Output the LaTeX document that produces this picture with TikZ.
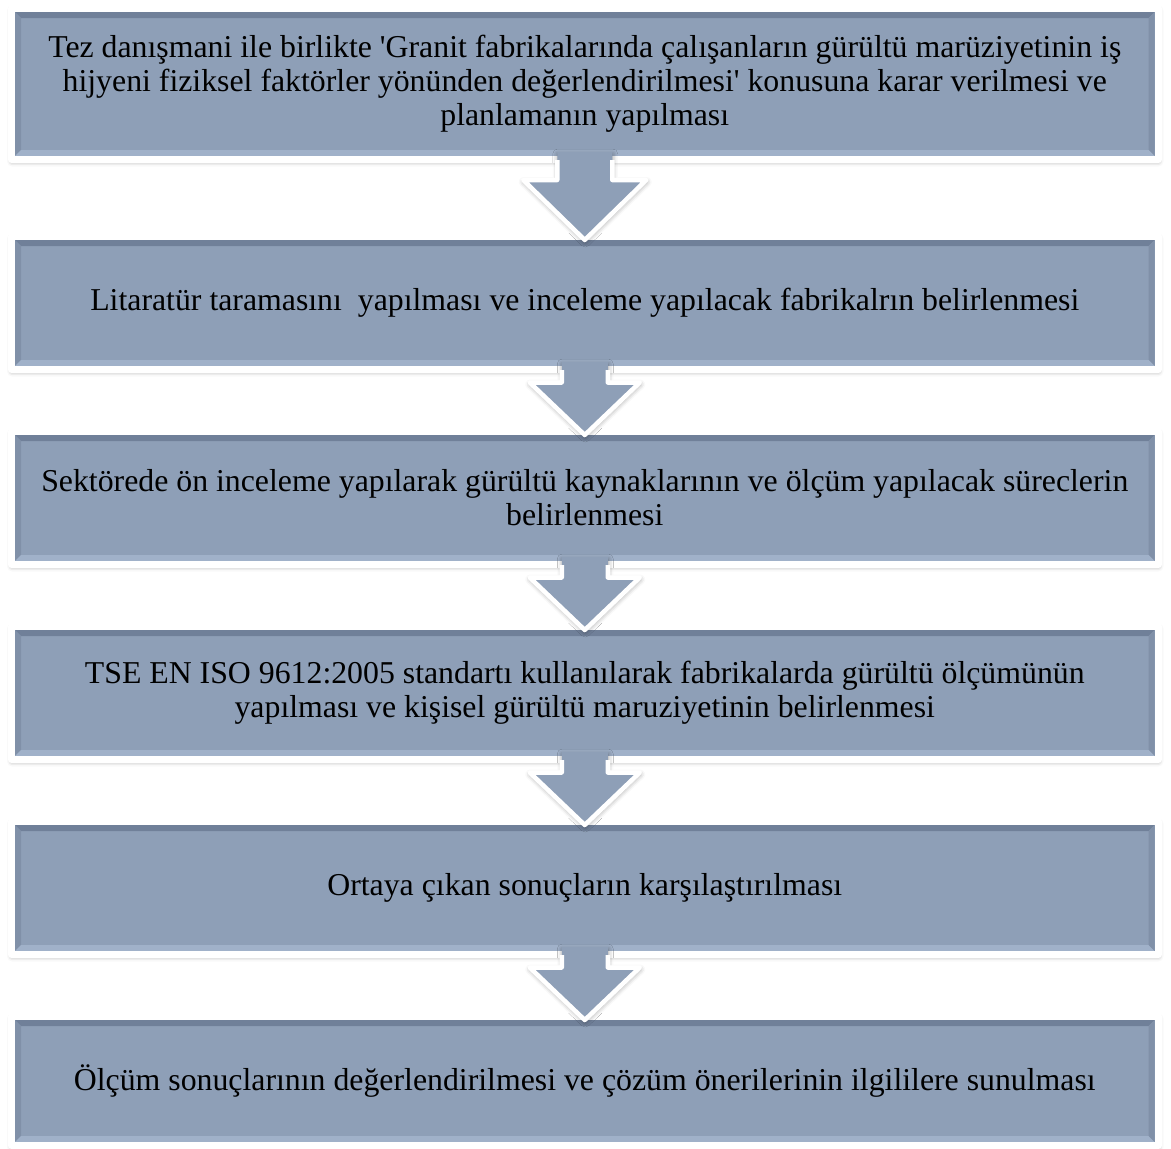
\documentclass[tikz,border=0pt]{standalone}
\usepackage{fontspec}
\setmainfont{Liberation Serif}
\usetikzlibrary{calc,shadows.blur}
\definecolor{boxfill}{RGB}{142,159,183}
\definecolor{bevdark}{RGB}{112,128,153}
\definecolor{bevside}{RGB}{128,144,168}
\definecolor{bevlight}{RGB}{160,177,201}
\begin{document}
\begin{tikzpicture}[x=1pt, y=-1pt, line join=round,
    softshadow/.style={blur shadow={shadow xshift=0.5pt, shadow yshift=-2pt,
        shadow blur radius=5pt, shadow opacity=40}},
    stepbox/.style={rectangle, fill=boxfill, draw=white, line width=7pt,
        minimum width=1146.5pt, align=center, softshadow,
        font=\fontsize{31.8}{34}\selectfont,
        path picture={
            \coordinate (onw) at ([shift={(3.5pt,-3.5pt)}]path picture bounding box.north west);
            \coordinate (one) at ([shift={(-3.5pt,-3.5pt)}]path picture bounding box.north east);
            \coordinate (ose) at ([shift={(-3.5pt,3.5pt)}]path picture bounding box.south east);
            \coordinate (osw) at ([shift={(3.5pt,3.5pt)}]path picture bounding box.south west);
            \coordinate (inw) at ([shift={(9.5pt,-9.5pt)}]path picture bounding box.north west);
            \coordinate (ine) at ([shift={(-9.5pt,-9.5pt)}]path picture bounding box.north east);
            \coordinate (ise) at ([shift={(-9.5pt,9.5pt)}]path picture bounding box.south east);
            \coordinate (isw) at ([shift={(9.5pt,9.5pt)}]path picture bounding box.south west);
            \fill[bevdark] (onw) -- (one) -- (ine) -- (inw) -- cycle;
            \fill[bevside] (onw) -- (inw) -- (isw) -- (osw) -- cycle;
            \fill[bevside] (one) -- (ine) -- (ise) -- (ose) -- cycle;
            \fill[bevlight] (osw) -- (isw) -- (ise) -- (ose) -- cycle;
        }},
    flowarrow/.style={fill=boxfill, softshadow},
    arrowrim/.style={draw=white, line width=4.5pt}]
    \useasboundingbox (0,0) rectangle (1171,1149);
    % steps
    \node[stepbox, minimum height=151pt] (b1) at (584.75,84) {Tez danışmani ile birlikte \textquotesingle Granit fabrikalarında çalışanların gürültü marüziyetinin iş\\ hijyeni fiziksel faktörler yönünden değerlendirilmesi\textquotesingle\ konusuna karar verilmesi ve\\ planlamanın yapılması};
    \node[stepbox, minimum height=133pt] (b2) at (584.75,303) {Litaratür taramasını\ \ yapılması ve inceleme yapılacak fabrikalrın belirlenmesi};
    \node[stepbox, minimum height=133pt] (b3) at (584.75,498) {Sektörede ön inceleme yapılarak gürültü kaynaklarının ve ölçüm yapılacak süreclerin\\ belirlenmesi};
    \node[stepbox, minimum height=133pt] (b4) at (584.75,693) {TSE EN ISO 9612:2005 standartı kullanılarak fabrikalarda gürültü ölçümünün\\ yapılması ve kişisel gürültü maruziyetinin belirlenmesi};
    \node[stepbox, minimum height=133pt] (b5) at (584.75,888) {Ortaya çıkan sonuçların karşılaştırılması};
    \node[stepbox, minimum height=129pt] (b6) at (584.75,1081) {Ölçüm sonuçlarının değerlendirilmesi ve çözüm önerilerinin ilgililere sunulması};
    % block arrows between the steps
    \foreach \a/\b/\w/\h in {b1/b2/27.5/61.5, b2/b3/23/55, b3/b4/23/55, b4/b5/23/55, b5/b6/23/55} {
        \coordinate (m) at ($(\a.south)!0.5!(\b.north)$);
        \fill[flowarrow] ($(\a.south)+(-\w,-11)$) -- ($(\a.south)+(\w,-11)$)
            -- ($(m)+(\w,-18)$) -- ($(m)+(\h,-18)$) -- ($(\b.north)+(0,7)$)
            -- ($(m)+(-\h,-18)$) -- ($(m)+(-\w,-18)$) -- cycle;
        \draw[arrowrim] ($(\a.south)+(-\w,-3)$) -- ($(m)+(-\w,-18)$) -- ($(m)+(-\h,-18)$)
            -- ($(\b.north)+(0,7)$) -- ($(m)+(\h,-18)$) -- ($(m)+(\w,-18)$)
            -- ($(\a.south)+(\w,-3)$);
    }
\end{tikzpicture}
\end{document}
